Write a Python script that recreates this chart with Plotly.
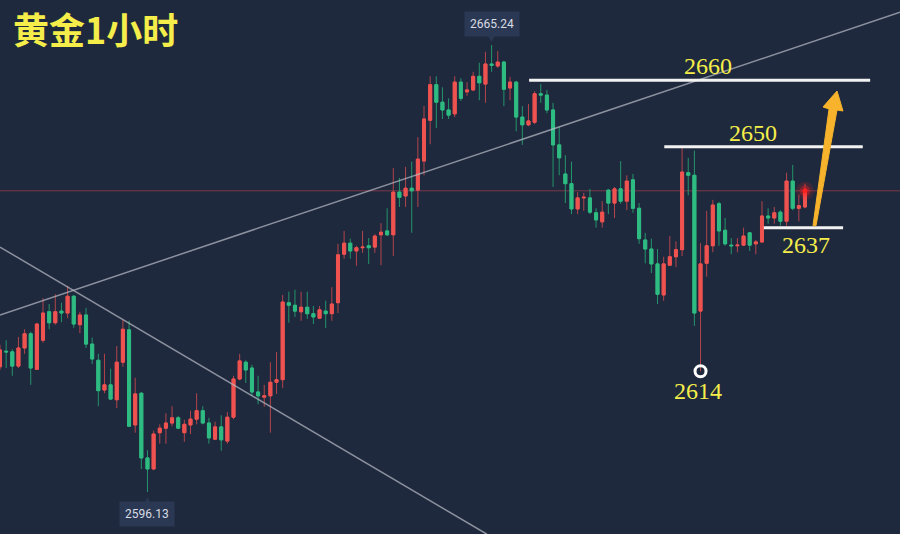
import plotly.graph_objects as go

# ---- data (XAU/USD 1h candles) ----
open_ = [
    2615.5, 2617.9, 2617.8, 2615.6, 2618.4, 2620.6, 2615.1, 2619.6, 2624.0, 2622.3,
    2624.1, 2623.8, 2626.4, 2622.0, 2623.5, 2619.0, 2616.5, 2611.9, 2612.7, 2610.4,
    2616.2, 2621.2, 2606.5, 2611.4, 2601.4, 2599.7, 2605.3, 2606.0, 2606.8, 2607.6,
    2605.3, 2606.5, 2607.4, 2608.7, 2606.8, 2604.3, 2606.2, 2604.0, 2607.7, 2613.6,
    2616.2, 2615.3, 2611.6, 2610.8, 2611.0, 2613.1, 2613.5, 2625.4, 2625.0, 2624.0,
    2624.7, 2623.7, 2623.0, 2624.1, 2623.7, 2625.4, 2632.9, 2634.6, 2633.4, 2633.9,
    2634.2, 2634.0, 2635.9, 2636.5, 2635.9, 2642.5, 2641.9, 2643.1, 2642.8, 2647.3,
    2653.6, 2659.1, 2656.4, 2655.2, 2654.6, 2659.5, 2658.0, 2658.3, 2660.4, 2659.2,
    2662.3, 2662.0, 2662.6, 2658.6, 2659.5, 2654.1, 2652.9, 2653.3, 2657.7, 2657.5,
    2655.2, 2649.8, 2645.3, 2643.8, 2639.9, 2641.6, 2641.6, 2639.3, 2637.9, 2642.8,
    2640.8, 2643.0, 2641.1, 2644.4, 2640.0, 2635.1, 2633.7, 2631.4, 2626.6, 2631.2,
    2632.5, 2633.6, 2645.5, 2645.1, 2624.1, 2631.5, 2634.2, 2640.7, 2636.6, 2634.3,
    2634.2, 2634.3, 2636.2, 2634.5, 2634.8, 2638.8, 2638.5, 2639.4, 2638.0, 2644.2,
    2640.0, 2640.2]
high = [
    2618.9, 2619.6, 2618.2, 2620.1, 2621.3, 2620.9, 2622.3, 2626.1, 2625.2, 2626.7,
    2625.4, 2628.0, 2626.6, 2624.0, 2624.6, 2620.0, 2617.5, 2617.5, 2615.2, 2618.7,
    2622.7, 2622.6, 2613.8, 2611.6, 2602.6, 2605.6, 2606.6, 2608.3, 2609.4, 2607.9,
    2607.3, 2608.7, 2611.4, 2609.4, 2607.6, 2607.0, 2608.0, 2608.5, 2614.1, 2617.5,
    2616.5, 2615.8, 2614.1, 2612.7, 2616.2, 2617.8, 2626.6, 2627.1, 2627.4, 2627.1,
    2627.1, 2624.9, 2624.9, 2625.7, 2627.8, 2634.5, 2636.5, 2635.3, 2634.2, 2636.5,
    2635.4, 2636.0, 2637.7, 2640.0, 2646.2, 2644.7, 2646.4, 2647.2, 2651.0, 2655.8,
    2660.4, 2660.4, 2658.7, 2657.0, 2660.4, 2660.1, 2659.5, 2661.1, 2662.5, 2664.2,
    2665.24, 2664.3, 2662.8, 2660.3, 2659.7, 2655.8, 2656.1, 2658.1, 2659.2, 2658.3,
    2656.3, 2652.6, 2648.2, 2647.2, 2642.5, 2642.4, 2643.0, 2640.0, 2641.1, 2643.0,
    2643.3, 2647.3, 2645.1, 2645.3, 2640.8, 2636.2, 2635.3, 2633.7, 2632.5, 2635.7,
    2634.9, 2649.3, 2647.8, 2648.9, 2634.6, 2639.6, 2641.3, 2641.0, 2638.5, 2635.4,
    2635.4, 2637.0, 2636.3, 2635.1, 2641.1, 2640.0, 2640.2, 2639.7, 2645.5, 2646.7,
    2642.1, 2643.8]
low = [
    2615.0, 2615.3, 2614.1, 2615.3, 2617.5, 2612.7, 2615.1, 2619.2, 2621.3, 2622.0,
    2622.4, 2623.0, 2621.5, 2620.7, 2618.4, 2615.9, 2609.4, 2611.4, 2610.4, 2609.1,
    2615.5, 2606.2, 2605.3, 2599.7, 2596.13, 2599.5, 2603.6, 2603.6, 2606.3, 2605.9,
    2603.9, 2605.1, 2606.6, 2606.6, 2603.6, 2604.2, 2602.5, 2603.6, 2607.4, 2613.4,
    2613.0, 2611.0, 2609.7, 2609.3, 2605.3, 2611.3, 2612.2, 2622.3, 2623.2, 2622.6,
    2622.9, 2622.1, 2622.9, 2621.5, 2622.6, 2623.8, 2632.2, 2632.2, 2631.1, 2633.1,
    2631.4, 2633.1, 2631.2, 2635.7, 2632.6, 2640.2, 2640.2, 2636.2, 2640.2, 2645.1,
    2649.9, 2652.4, 2653.8, 2653.8, 2654.1, 2656.6, 2657.4, 2658.1, 2656.7, 2656.3,
    2661.1, 2661.7, 2655.8, 2656.7, 2651.9, 2649.8, 2652.7, 2653.0, 2656.3, 2654.7,
    2643.3, 2645.1, 2640.8, 2639.1, 2639.1, 2639.6, 2639.1, 2637.0, 2637.0, 2639.1,
    2638.5, 2640.7, 2639.7, 2639.3, 2634.5, 2631.5, 2630.0, 2625.2, 2625.7, 2631.1,
    2630.9, 2632.6, 2642.0, 2621.8, 2614.8, 2629.4, 2633.2, 2634.2, 2634.2, 2632.9,
    2633.2, 2634.2, 2633.4, 2632.9, 2634.6, 2637.6, 2637.6, 2637.3, 2637.3, 2639.7,
    2638.0, 2640.0]
close = [
    2618.1, 2617.8, 2615.6, 2618.4, 2620.6, 2615.3, 2622.1, 2623.8, 2622.3, 2624.0,
    2623.8, 2626.4, 2622.1, 2623.5, 2619.0, 2616.7, 2611.8, 2612.7, 2610.5, 2616.2,
    2621.3, 2606.3, 2611.3, 2601.4, 2599.7, 2605.1, 2606.0, 2606.8, 2607.6, 2606.0,
    2606.6, 2607.4, 2608.7, 2606.8, 2604.5, 2606.2, 2604.2, 2607.7, 2613.6, 2616.4,
    2615.0, 2611.6, 2611.0, 2611.0, 2613.1, 2613.5, 2625.5, 2625.0, 2624.1, 2624.7,
    2623.7, 2623.2, 2624.3, 2623.7, 2625.2, 2632.8, 2634.6, 2633.4, 2633.9, 2634.0,
    2633.9, 2635.7, 2636.3, 2635.9, 2642.5, 2641.7, 2643.1, 2642.7, 2647.6, 2653.8,
    2659.1, 2656.4, 2655.2, 2654.4, 2659.5, 2657.0, 2658.3, 2660.4, 2659.4, 2662.3,
    2662.1, 2662.6, 2658.4, 2659.5, 2654.1, 2652.9, 2653.5, 2657.7, 2657.5, 2655.2,
    2649.8, 2647.8, 2643.8, 2639.9, 2641.6, 2641.7, 2639.4, 2638.2, 2639.4, 2640.8,
    2643.0, 2641.1, 2644.2, 2640.0, 2635.3, 2633.7, 2631.4, 2626.7, 2631.4, 2632.5,
    2633.6, 2645.6, 2645.1, 2623.8, 2631.4, 2634.2, 2640.5, 2636.5, 2634.5, 2634.2,
    2634.3, 2635.7, 2634.3, 2634.8, 2638.8, 2638.5, 2639.3, 2638.0, 2644.2, 2640.0,
    2640.4, 2642.7]
bar_index = list(range(len(close)))

# drawn levels / labels
level_values = [2659.8, 2649.5, 2637.0]
level_spans = [(86.1, 141.6), (108.1, 140.4), (124.3, 137.2)]
level_texts = ["2660", "2650", "2637", "2614"]
level_text_pos = [(115.2, 2662.0), (122.5, 2651.6), (131.2, 2634.3), (113.6, 2611.75)]
swing_low_bar = 114
trend_up = [(0, 2623.5), (146.46, 2670.3)]
trend_down = [(0, 2634.0), (79.25, 2589.6)]
arrow_poly = [(132.30, 2637.3), (134.91, 2655.35), (133.93, 2655.66), (136.21, 2658.13),
              (137.18, 2655.04), (136.21, 2655.19), (132.79, 2637.3)]
x_range = [0, 146.46]
y_range = [2589.64, 2672.2]

BG = "#1f293d"
RED = "#ef5350"
GREEN = "#2fbc83"
RED_WICK = "#b2444b"
GREEN_WICK = "#23946a"
YELLOW = "#f5ee4a"

body_hi = [max(o, c) for o, c in zip(open_, close)]
body_lo = [min(o, c) for o, c in zip(open_, close)]

fig = go.Figure()
fig.add_trace(go.Candlestick(
    x=bar_index, open=open_, high=high, low=low, close=close,
    increasing=dict(line=dict(color=RED_WICK, width=1), fillcolor=RED_WICK),
    decreasing=dict(line=dict(color=GREEN_WICK, width=1), fillcolor=GREEN_WICK),
    whiskerwidth=0, hoverinfo="skip", showlegend=False))
fig.add_trace(go.Candlestick(
    x=bar_index, open=open_, high=body_hi, low=body_lo, close=close,
    increasing=dict(line=dict(color=RED, width=1), fillcolor=RED),
    decreasing=dict(line=dict(color=GREEN, width=1), fillcolor=GREEN),
    whiskerwidth=0, hoverinfo="skip", showlegend=False))

# current price line
fig.add_shape(type="line", xref="paper", x0=0, x1=1, y0=close[-1], y1=close[-1],
              line=dict(color="#7a3a48", width=1), layer="below")
# trend lines
for (xa, ya), (xb, yb) in [trend_up, trend_down]:
    fig.add_shape(type="line", x0=xa, y0=ya, x1=xb, y1=yb,
                  line=dict(color="rgba(185,190,200,0.7)", width=1.5))
# level lines
for lv, (xa, xb) in zip(level_values, level_spans):
    fig.add_shape(type="line", x0=xa, x1=xb, y0=lv, y1=lv,
                  line=dict(color="#f2f2f2", width=3))
# arrow
path = "M " + " L ".join(f"{x},{y}" for x, y in arrow_poly) + " Z"
fig.add_shape(type="path", path=path, fillcolor="#f6b32b", line=dict(color="#f6b32b", width=1))

# swing low circle
fig.add_trace(go.Scatter(x=[swing_low_bar], y=[low[swing_low_bar]], mode="markers",
                         marker=dict(symbol="circle-open", size=11, color="white",
                                     line=dict(color="white", width=3)),
                         hoverinfo="skip", showlegend=False))
# live price glow
for sz, op in [(18, 0.15), (11, 0.35), (5, 1.0)]:
    fig.add_trace(go.Scatter(x=[bar_index[-1]], y=[close[-1]], mode="markers",
                             marker=dict(size=sz, color="#ff2020", opacity=op),
                             hoverinfo="skip", showlegend=False))

for t, (x, y) in zip(level_texts, level_text_pos):
    fig.add_annotation(x=x, y=y, text=t, showarrow=False,
                       font=dict(family="Liberation Serif", size=24, color=YELLOW))

# high / low tags
hi_i = high.index(max(high))
lo_i = low.index(min(low))
TAG = "#2b3853"
fig.add_annotation(x=hi_i, y=high[hi_i], text=f"{high[hi_i]:.2f}", showarrow=False,
                   yanchor="bottom", yshift=8, bgcolor=TAG, borderpad=5,
                   font=dict(family="Roboto", size=12, color="#d8dce4"))
fig.add_annotation(x=hi_i, y=high[hi_i], text="▼", showarrow=False, yanchor="bottom",
                   yshift=0, font=dict(family="DejaVu Sans", size=9, color=TAG))
fig.add_annotation(x=lo_i, y=low[lo_i], text=f"{low[lo_i]:.2f}", showarrow=False,
                   yanchor="top", yshift=-9, bgcolor=TAG, borderpad=5,
                   font=dict(family="Roboto", size=12, color="#d8dce4"))
fig.add_annotation(x=lo_i, y=low[lo_i], text="▲", showarrow=False, yanchor="top",
                   yshift=-1, font=dict(family="DejaVu Sans", size=9, color=TAG))

# title
fig.add_annotation(xref="paper", yref="paper", x=11 / 900, y=1 - 28 / 534,
                   xanchor="left", yanchor="middle", text="<b>黄金1小时</b>", showarrow=False,
                   font=dict(family="Noto Sans CJK SC", size=36, color=YELLOW))

fig.update_layout(
    width=900, height=534, margin=dict(l=0, r=0, t=0, b=0),
    paper_bgcolor=BG, plot_bgcolor=BG, showlegend=False,
    xaxis=dict(range=x_range, visible=False, rangeslider=dict(visible=False), fixedrange=True),
    yaxis=dict(range=y_range, visible=False, fixedrange=True),
)
fig.write_html("out.html", config={"displayModeBar": False},
               post_script="document.body.style.margin='0';document.body.style.overflow='hidden';")
